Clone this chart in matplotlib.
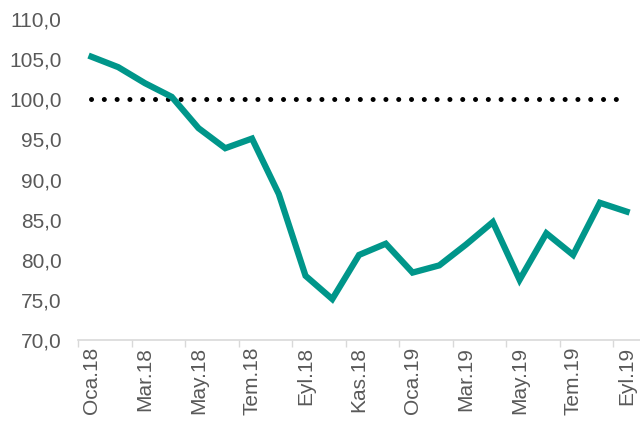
import matplotlib
matplotlib.use("Agg")
import matplotlib.pyplot as plt
import numpy as np

# monthly index values, Oca.18 .. Eyl.19
months = ["Oca.18", "Şub.18", "Mar.18", "Nis.18", "May.18", "Haz.18", "Tem.18",
          "Ağu.18", "Eyl.18", "Eki.18", "Kas.18", "Ara.18", "Oca.19", "Şub.19",
          "Mar.19", "Nis.19", "May.19", "Haz.19", "Tem.19", "Ağu.19", "Eyl.19"]
index_vals = [105.3, 104.0, 102.0, 100.3, 96.4, 93.9, 95.1,
              88.2, 78.0, 75.1, 80.6, 82.0, 78.4, 79.3,
              81.9, 84.7, 77.5, 83.3, 80.6, 87.1, 86.0]
ref_level = 100.0
y_ticks = [70, 75, 80, 85, 90, 95, 100, 105, 110]

plt.rcParams["font.family"] = ["Liberation Sans", "DejaVu Sans"]

fig = plt.figure(figsize=(6.4, 4.28), dpi=100)
ax = fig.add_axes([0.122, 0.2056, 0.878, 0.75])

x = np.arange(len(months))
ax.plot(x, [ref_level] * len(x), color="black", linewidth=3.6,
        linestyle=(0, (0.01, 2.55)), dash_capstyle="round", zorder=2)
ax.plot(x, index_vals, color="#00968a", linewidth=4.5,
        solid_joinstyle="miter", zorder=3)

ax.set_xlim(-0.5, len(months) - 0.5)
ax.set_ylim(70, 110)

# y axis
ax.set_yticks(y_ticks)
ax.set_yticklabels([f"{v:.1f}".replace(".", ",") for v in y_ticks])
ax.tick_params(axis="y", length=0, pad=12, labelsize=15, labelcolor="#595959")

# x axis: tick marks between categories, labels every other month
ax.set_xticks(np.arange(-0.5, len(months) - 0.5, 2))
ax.set_xticklabels([])
ax.set_xticks(x[::2], minor=True)
ax.set_xticklabels(months[::2], minor=True, rotation=90)
ax.tick_params(axis="x", which="major", length=5, color="#d9d9d9", width=1)
ax.tick_params(axis="x", which="minor", length=0, pad=5, labelsize=15,
               labelcolor="#595959")

for side in ["left", "right", "top"]:
    ax.spines[side].set_visible(False)
ax.spines["bottom"].set_color("#d9d9d9")
ax.spines["bottom"].set_linewidth(1.2)

fig.savefig("out.png", dpi=100)
